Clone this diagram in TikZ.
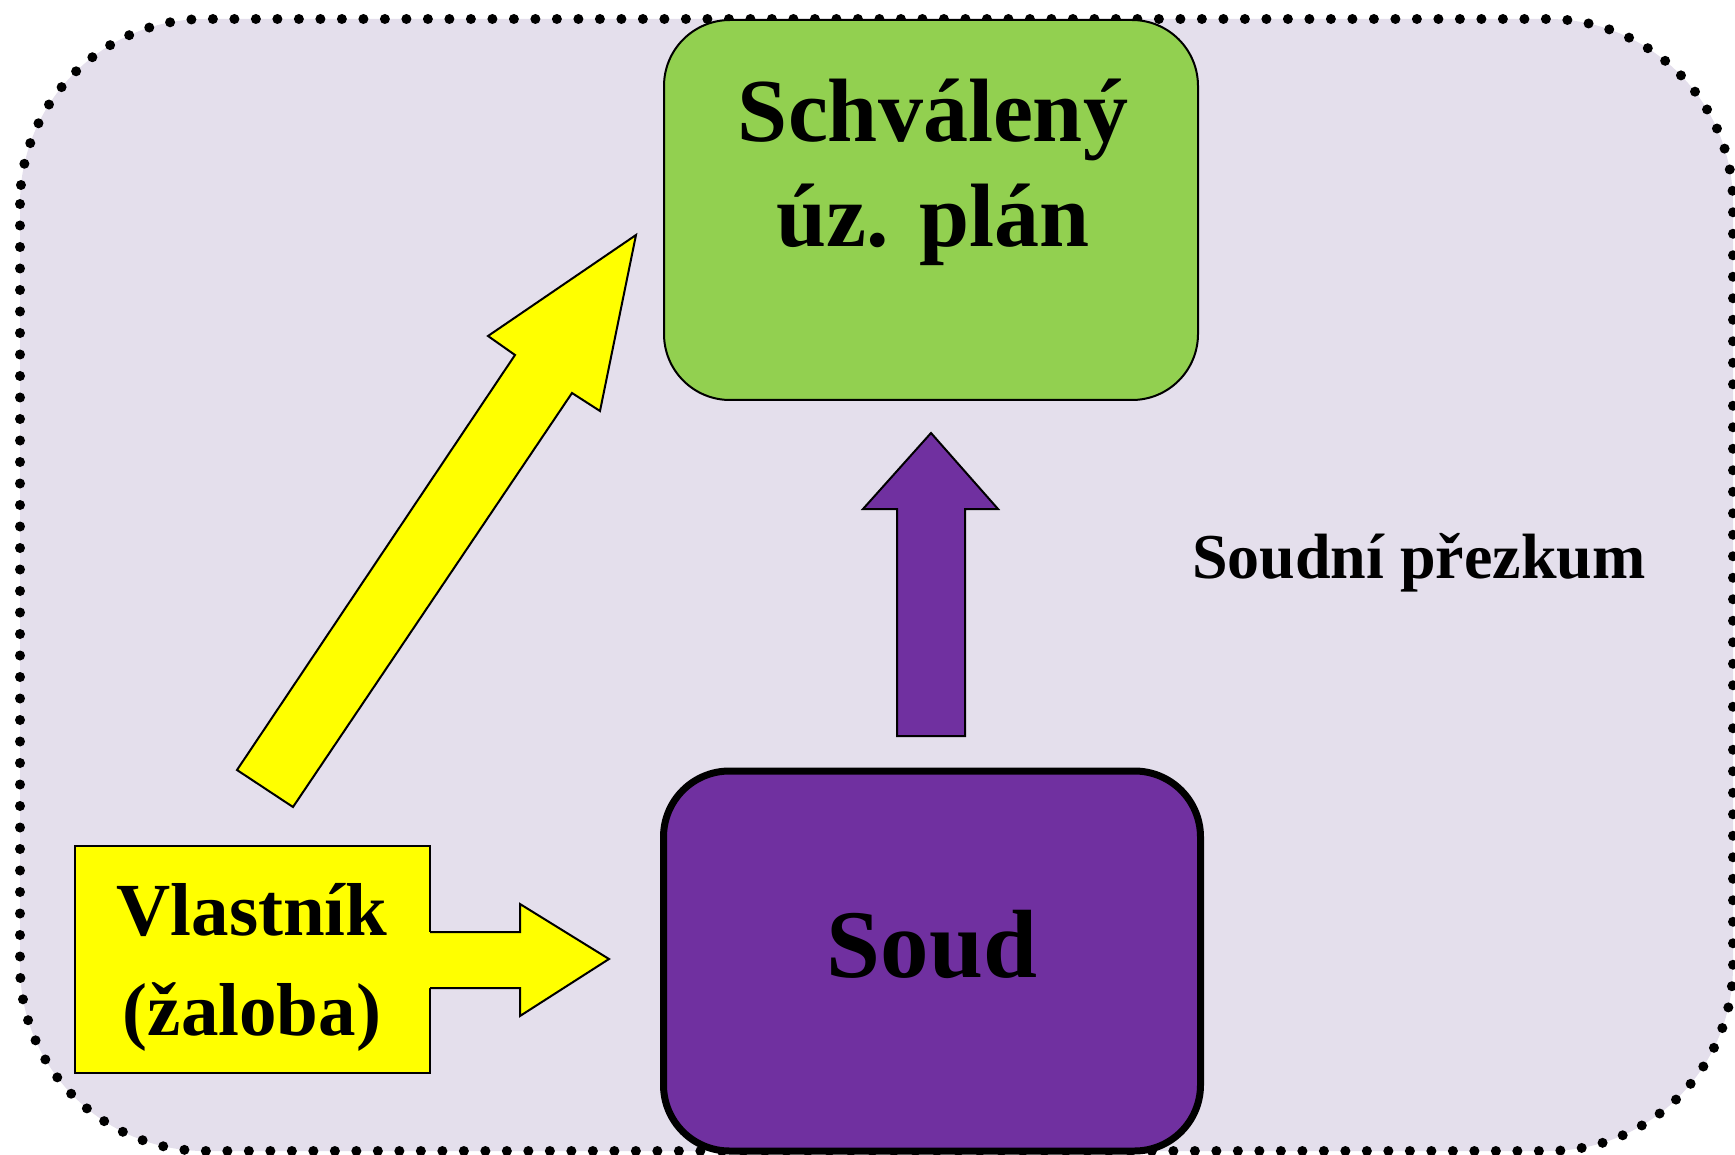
\documentclass[tikz,border=0pt]{standalone}
\usepackage{fontspec}
\setmainfont{Liberation Serif}
\definecolor{bgl}{RGB}{228,223,236}
\definecolor{gbox}{RGB}{146,208,80}
\definecolor{pbox}{RGB}{112,48,160}
\definecolor{ybox}{RGB}{255,255,0}
\tikzset{
  outerframe/.style={fill=bgl, draw=black, line width=10pt, line cap=round, dash pattern=on 0pt off 21.5pt, rounded corners=185pt},
  greenbox/.style={rectangle, fill=gbox, draw=black, line width=2pt, rounded corners=66pt, inner sep=0pt, outer sep=0pt},
  purplebox/.style={rectangle, fill=pbox, draw=black, line width=7pt, rounded corners=66pt, inner sep=0pt, outer sep=0pt},
  yellowbox/.style={rectangle, fill=ybox, draw=black, line width=2pt, inner sep=0pt, outer sep=0pt},
  blockarrow/.style={draw=black, line width=2pt, line join=miter},
  bigtxt/.style={font=\fontsize{90}{105}\selectfont\bfseries, align=center, inner sep=0pt},
  soudtxt/.style={font=\fontsize{97}{110}\selectfont\bfseries, inner sep=0pt},
  ownertxt/.style={font=\fontsize{75}{100}\selectfont\bfseries, align=center, inner sep=0pt},
  notetxt/.style={font=\fontsize{64}{70}\selectfont\bfseries, inner sep=0pt}
}
\begin{document}
\begin{tikzpicture}[x=1pt,y=-1pt]
\useasboundingbox (0,0) rectangle (1735,1155);
\draw[outerframe] (20,19) rectangle (1733,1151);
% boxes
\node[greenbox, minimum width=534pt, minimum height=380pt] (plan) at (931,210) {};
\node[bigtxt, anchor=base] (plantext) at (933,247) {Schválený\\úz. plán};
\node[purplebox, minimum width=537pt, minimum height=380pt] (soud) at (932,961) {};
\node[soudtxt, anchor=base] (soudtext) at (932,977) {Soud};
\node[yellowbox, minimum width=355pt, minimum height=227pt] (owner) at (252.5,959.5) {};
\node[ownertxt, anchor=base] (ownertext) at (252,1035) {Vlastník\\(žaloba)};
\node[notetxt, anchor=base west] (review) at (1192,578) {Soudní přezkum};
% purple arrow from court to plan
\filldraw[blockarrow, fill=pbox] (897,736) -- (897,509) -- (863,509) -- (931,433) -- (998,509) -- (965,509) -- (965,736) -- cycle;
% yellow arrow from owner to court
\fill[ybox] (428,932) -- (520,932) -- (520,904) -- (609,959) -- (520,1016) -- (520,988) -- (428,988) -- cycle;
\draw[blockarrow] (owner.east |- 0,932) -- (520,932) -- (520,904) -- (609,959) -- (520,1016) -- (520,988) -- (owner.east |- 0,988);
% diagonal yellow arrow to plan
\filldraw[blockarrow, fill=ybox] (237,770) -- (515,355) -- (488,336) -- (636,235) -- (600,411) -- (572,393) -- (293,807) -- cycle;
\end{tikzpicture}
\end{document}
